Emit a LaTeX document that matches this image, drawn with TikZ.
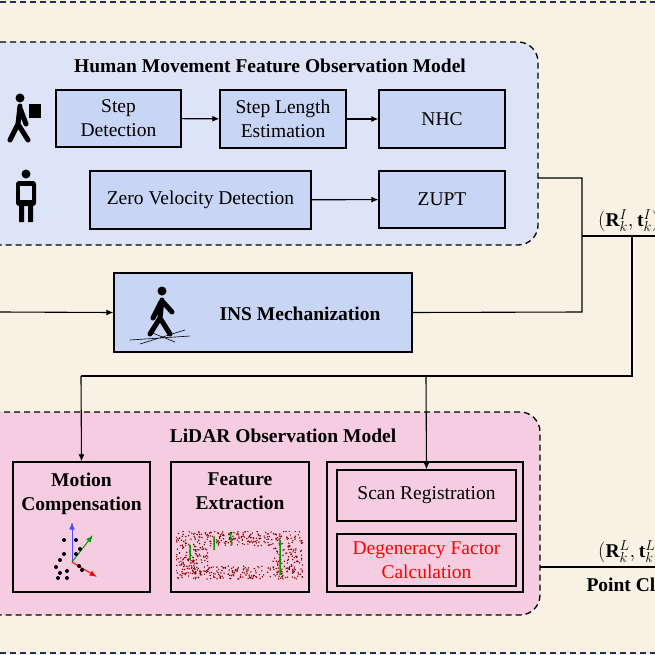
\documentclass[tikz,border=0pt]{standalone}
\usepackage{fontspec}
\setmainfont{Liberation Serif}
\usetikzlibrary{arrows.meta}
\definecolor{bg}{HTML}{F8F1E4}
\definecolor{hbg}{HTML}{DDE4F8}
\definecolor{hbox}{HTML}{C9D5F5}
\definecolor{lbg}{HTML}{F6CDE0}
\definecolor{navy}{HTML}{1F2F5A}
\begin{document}
\begin{tikzpicture}[x=1pt,y=-1pt,
  every node/.style={font=\fontsize{19.5}{24}\selectfont},
  bf/.style={font=\bfseries\fontsize{19.5}{24}\selectfont},
  box/.style={draw,line width=1.3pt,fill=hbox,align=center,inner sep=0pt},
  pbox/.style={draw,line width=1.3pt,align=center,inner sep=0pt},
  grp/.style={draw,dashed,line width=1.3pt,rounded corners=20pt,dash pattern=on 6pt off 4pt},
  ar/.style={-{Latex[length=7pt,width=6pt]},line width=1.1pt},
  ln/.style={line width=1.1pt}]
\clip (0,0) rectangle (655,655);
\fill[bg] (0,0) rectangle (655,655);
\draw[navy,line width=2pt,dash pattern=on 6pt off 4pt] (0,2)--(655,2) (0,653)--(655,653);
% Human group
\draw[grp,fill=hbg] (-20,42) rectangle (538,245);
\node[bf] (ht) at (270,66) {Human Movement Feature Observation Model};
\node[box,minimum width=125pt,minimum height=57pt] (sd) at (118.5,118.5) {Step\\Detection};
\node[box,minimum width=126pt,minimum height=58pt] (sl) at (283,119) {Step Length\\Estimation};
\node[box,minimum width=126pt,minimum height=58pt] (nhc) at (442,119) {NHC};
\node[box,minimum width=221pt,minimum height=58pt] (zv) at (200.5,200) {Zero Velocity Detection};
\node[box,minimum width=126pt,minimum height=57pt] (zu) at (442,199.5) {ZUPT};
\draw[ar] (sd)--(sl); \draw[ar] (sl)--(nhc); \draw[ar] (zv)--(zu);
% icons
\fill (20,98) circle (4.5pt);
\draw[line width=5pt,line cap=round] (20,106)--(18,124)--(10,140) (18,124)--(28,140) (20,108)--(26,124);
\fill (29,104) rectangle (41,118);
\fill (26,174) circle (4.5pt);
\fill[rounded corners=3pt] (16,181) rectangle (36,206);
\fill[hbg] (20,186) rectangle (32,200);
\fill (19,204) rectangle (24,222) (28,204) rectangle (33,222);
% INS
\node[box,minimum width=298pt,minimum height=79pt] (ins) at (263,312.5) {};
\node[bf] (inst) at (300,314) {INS Mechanization};
\fill (162,291) circle (4.5pt);
\draw[line width=5pt,line cap=round] (162,300)--(160,318)--(150,334) (160,318)--(170,334) (161,302)--(153,318) (163,302)--(172,312);
\draw[line width=0.6pt] (130,340)--(190,336) (140,344)--(185,330) (150,332)--(175,342);
\coordinate (in) at (0,312);
\draw[ar] (in)--(ins.west);
% connectors
\coordinate (h1) at (582,178); \coordinate (h2) at (582,312); \coordinate (j) at (582,236);
\coordinate (k) at (632,236); \coordinate (k2) at (632,376); \coordinate (r) at (680,236);
\coordinate (b1) at (81,376); \coordinate (b2) at (426,376);
\draw[ln] (538,178)--(h1)--(h2)--(ins.east);
\draw[ln] (j)--(r);
\draw[ln] (k)--(k2)--(b1);
\node[anchor=south west,inner sep=1pt] (lab1) at (597,233) {$(\mathbf{R}_k^I,\mathbf{t}_k^I)$};
% LiDAR group
\draw[grp,fill=lbg] (-20,412) rectangle (540,615);
\node[bf] (lt) at (283,436) {LiDAR Observation Model};
\node[pbox,minimum width=137pt,minimum height=130pt] (mc) at (81.5,527) {};
\node[bf,align=center,anchor=north] (mct) at (81.5,469) {Motion\\Compensation};
\node[pbox,minimum width=138pt,minimum height=130pt] (fe) at (240,527) {};
\node[bf,align=center,anchor=north] (fet) at (240,469) {Feature\\Extraction};
\node[pbox,minimum width=196pt,minimum height=130pt] (rb) at (425,527) {};
\node[pbox,minimum width=179pt,minimum height=51pt] (sr) at (426.5,495.5) {Scan Registration};
\node[pbox,minimum width=179pt,minimum height=52pt,text=red] (dg) at (426.5,560) {Degeneracy Factor\\Calculation};
\draw[ar] (b1)--(mc.north);
\draw[ar] (b2)--(sr.north);
% motion comp drawing
\draw[-{Latex},blue!70,line width=1pt] (72,562)--(72,522);
\draw[-{Latex},green!60!black,line width=1pt] (72,562)--(93,535);
\draw[-{Latex},red,line width=1pt] (72,562)--(97,577);
\foreach \p in {(64,540),(64,554),(60,560),(56,567),(60,573),(67,571),(76,554),(79,566),(67,578),(58,578),(82,570),(76,540),(80,549)} \fill \p circle (2pt);
% feature extraction dots
\pgfmathsetseed{7}
\begin{scope}
\clip (176,531) rectangle (303,579);
\foreach \i in {1,...,800} {
  \pgfmathsetmacro\xx{176+127*rnd}
  \pgfmathsetmacro\yy{531+48*rnd}
  \pgfmathparse{(\xx>208 && \xx<272 && \yy>546 && \yy<566)?1:0}
  \ifnum\pgfmathresult=0 \fill[red!50!black] (\xx,\yy) circle (0.8pt);\fi
}
\end{scope}
\draw[green!60!black,line width=1.5pt] (280,540)--(280,575) (190,545)--(190,560) (214,537)--(214,550) (230,533)--(232,545);
% output
\coordinate (o) at (680,567);
\draw[ln] (540,567)--(o);
\node[anchor=south west,inner sep=1pt] (lab2) at (597,564) {$(\mathbf{R}_k^L,\mathbf{t}_k^L)$};
\node[bf,anchor=west] (lab3) at (583,585) {Point Cloud};
\end{tikzpicture}
\end{document}
